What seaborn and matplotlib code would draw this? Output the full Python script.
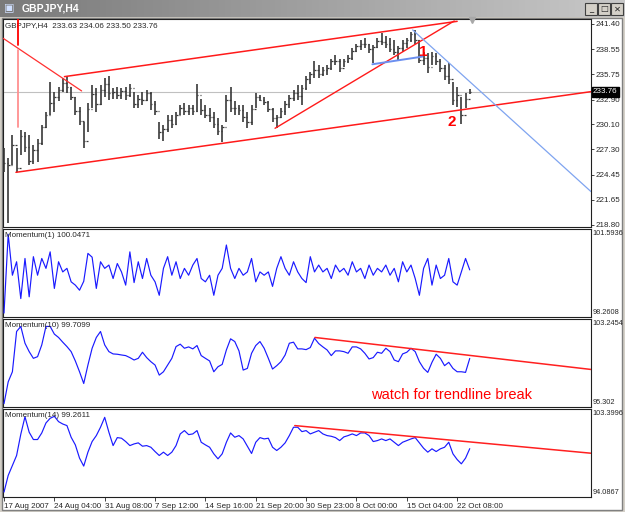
import matplotlib.pyplot as plt
import matplotlib.transforms as mtransforms
from matplotlib.patches import Rectangle
import numpy as np
import pandas as pd
import seaborn as sns

# GBPJPY H4 bars (one entry per bar)
high = [227.4, 226.3, 228.9, 227.4, 229.5, 229.3, 228.9, 227.8, 228.5, 230.0,
        231.5, 234.9, 233.8, 234.35, 235.3, 235.5, 234.35, 233.2, 232.1, 230.4,
        232.5, 234.5, 234.2, 234.5, 235.3, 235.5, 234.2, 234.35, 234.2, 234.35,
        234.7, 233.8, 233.4, 233.8, 234.0, 233.8, 232.7, 230.4, 230.0, 231.2,
        231.2, 231.5, 232.3, 232.5, 232.3, 232.3, 234.7, 233.0, 232.3, 231.9,
        231.5, 230.8, 230.0, 233.4, 234.35, 232.7, 232.3, 232.3, 231.5, 232.3,
        233.6, 233.4, 233.2, 232.7, 231.9, 231.2, 231.9, 232.7, 233.4, 234.0,
        234.5, 234.5, 235.5, 236.0, 237.2, 236.8, 236.6, 236.8, 237.5, 237.9,
        237.5, 237.5, 237.9, 238.7, 239.2, 239.6, 239.8, 239.2, 239.0, 239.8,
        240.35, 240.0, 239.8, 239.6, 238.9, 239.6, 239.8, 240.5, 240.7, 239.6,
        238.3, 238.1, 238.3, 238.1, 237.5, 236.8, 236.98, 234.9, 234.35, 233.2,
        233.6, 234.06]
low = [224.8, 219.0, 225.5, 224.8, 226.7, 227.0, 225.5, 225.7, 225.9, 227.8,
       229.7, 231.2, 231.5, 232.7, 233.8, 233.6, 232.85, 231.2, 230.0, 227.4,
       229.3, 231.9, 231.5, 232.3, 233.2, 232.85, 233.0, 233.0, 233.0, 232.85,
       233.2, 231.9, 231.9, 232.3, 232.7, 231.7, 231.2, 228.5, 228.2, 229.3,
       229.7, 230.0, 231.2, 231.2, 231.2, 231.2, 231.5, 231.2, 230.8, 230.4,
       229.7, 228.9, 228.1, 230.4, 231.5, 231.2, 231.2, 230.4, 229.7, 230.0,
       231.9, 232.7, 232.3, 231.5, 230.4, 229.7, 230.8, 231.2, 231.9, 232.7,
       232.85, 232.3, 234.0, 234.7, 235.3, 235.3, 235.5, 235.7, 236.2, 236.8,
       236.0, 236.6, 237.0, 237.35, 238.3, 238.5, 238.7, 238.1, 237.0, 238.7,
       239.0, 238.7, 238.3, 237.9, 237.35, 238.3, 238.7, 239.4, 239.2, 237.0,
       236.8, 235.85, 236.8, 236.8, 236.0, 235.1, 234.7, 232.3, 232.1, 230.2,
       231.9, 233.50]
close = [225.8, 225.5, 227.8, 225.2, 228.8, 227.6, 226.0, 227.2, 228.0, 229.8,
         231.2, 232.5, 233.2, 234.0, 234.8, 234.3, 233.2, 231.6, 230.5, 228.2,
         231.8, 233.5, 232.4, 234.0, 234.6, 233.6, 233.8, 233.4, 233.9, 233.4,
         234.2, 232.4, 233.0, 232.8, 233.6, 232.4, 231.6, 229.2, 229.6, 230.6,
         230.2, 231.2, 231.9, 231.6, 232.0, 231.6, 233.4, 231.7, 231.2, 230.9,
         230.2, 229.4, 229.8, 232.9, 232.0, 231.9, 231.7, 230.9, 230.4, 231.8,
         233.2, 232.9, 232.6, 231.8, 230.8, 230.9, 231.6, 232.4, 233.1, 233.6,
         233.3, 234.2, 235.2, 235.8, 236.2, 235.8, 236.2, 236.5, 237.2, 237.2,
         236.5, 237.2, 237.6, 238.4, 238.9, 239.2, 239.1, 238.6, 238.8, 239.5,
         239.4, 239.2, 238.6, 238.3, 238.7, 239.3, 239.6, 240.3, 239.6, 237.4,
         237.6, 236.6, 237.8, 237.2, 236.4, 235.6, 235.2, 232.8, 233.4, 231.2,
         233.0, 233.76]

mom1 = [98.35, 101.45, 99.84, 100.37, 98.92, 100.50, 98.99, 100.57, 99.84, 100.50,
        100.11, 100.76, 99.32, 100.37, 99.97, 100.11, 99.58, 99.45, 99.25, 99.60,
        100.70, 100.55, 99.32, 100.37, 100.11, 100.24, 99.71, 100.30, 99.97, 99.45,
        100.76, 99.55, 100.37, 99.71, 100.50, 99.84, 99.58, 99.05, 100.11, 100.57,
        99.84, 100.37, 99.71, 100.11, 99.84, 100.24, 100.50, 99.71, 99.58, 99.84,
        99.05, 99.84, 100.11, 101.03, 100.11, 99.71, 100.11, 99.84, 99.97, 100.50,
        99.58, 99.97, 99.84, 99.97, 99.40, 100.11, 100.57, 100.11, 99.84, 100.37,
        99.97, 99.71, 99.55, 100.57, 99.97, 100.24, 99.97, 100.11, 99.71, 100.24,
        99.97, 100.11, 99.84, 100.37, 99.97, 100.11, 99.71, 100.24, 99.84, 100.11,
        99.97, 100.24, 99.84, 100.11, 99.58, 100.37, 99.97, 100.24, 99.71, 99.05,
        100.11, 100.50, 99.45, 100.24, 99.71, 99.84, 100.50, 99.58, 99.45, 99.97,
        100.50, 100.05]
mom10 = [95.40, 97.48, 98.44, 102.28, 102.76, 101.16, 100.36, 99.72, 99.88, 101.00,
         102.76, 102.76, 102.03, 101.71, 101.26, 100.84, 100.36, 99.47, 98.44, 97.32,
         99.08, 100.68, 101.71, 102.28, 101.00, 100.36, 100.14, 100.11, 100.04, 99.98,
         99.79, 99.56, 99.72, 100.30, 99.79, 99.40, 99.08, 98.12, 98.44, 99.08,
         99.72, 100.84, 101.07, 100.68, 100.81, 100.62, 100.94, 99.98, 99.72, 99.47,
         98.44, 98.92, 99.14, 100.52, 101.58, 101.32, 100.43, 98.60, 98.76, 100.20,
         100.94, 101.32, 100.68, 99.72, 98.70, 99.02, 99.40, 100.04, 101.16, 101.26,
         100.62, 100.62, 100.55, 100.75, 101.64, 101.13, 100.81, 100.52, 99.98, 100.43,
         100.43, 100.36, 100.20, 100.81, 100.81, 100.62, 100.20, 99.66, 99.79, 100.30,
         100.20, 100.68, 100.36, 99.56, 99.40, 100.14, 100.30, 100.68, 100.36, 99.40,
         98.76, 98.38, 99.34, 100.11, 99.72, 99.02, 99.34, 98.76, 98.44, 98.44,
         98.38, 99.71]
mom14 = [94.31, 96.21, 97.34, 98.48, 100.90, 102.90, 101.13, 100.30, 100.30, 101.05,
         102.19, 102.72, 102.95, 102.34, 102.07, 101.89, 100.56, 99.69, 98.18, 97.27,
         98.86, 100.07, 100.75, 101.70, 102.83, 101.13, 99.61, 100.52, 100.45, 100.07,
         99.61, 99.80, 99.92, 99.54, 99.61, 99.42, 98.93, 98.48, 98.86, 98.48,
         98.86, 99.61, 100.94, 101.32, 100.86, 100.94, 101.32, 99.99, 99.69, 99.42,
         98.67, 98.10, 98.67, 99.99, 101.05, 100.56, 100.75, 100.37, 99.54, 98.71,
         99.99, 100.52, 100.37, 100.45, 99.42, 99.05, 99.42, 99.92, 100.75, 101.70,
         101.70, 101.20, 101.32, 100.94, 101.13, 101.32, 100.94, 100.75, 100.67, 100.52,
         100.18, 100.60, 100.75, 100.94, 100.75, 101.05, 101.05, 100.75, 100.07, 100.18,
         100.37, 100.18, 100.37, 99.99, 99.61, 99.99, 100.18, 100.37, 100.52, 99.92,
         99.31, 98.86, 99.24, 98.93, 99.24, 99.42, 99.99, 98.67, 98.02, 97.53,
         98.18, 99.26]

date_labels = ['17 Aug 2007', '24 Aug 04:00', '31 Aug 08:00', '7 Sep 12:00', '14 Sep 16:00',
               '21 Sep 20:00', '30 Sep 23:00', '8 Oct 00:00', '15 Oct 04:00', '22 Oct 08:00']
date_bars = [0, 12, 24, 36, 48, 60, 72, 84, 96, 108]
price_ticks = [241.40, 238.55, 235.75, 232.90, 230.10, 227.30, 224.45, 221.65, 218.80]
last_price = 233.76

# drawn objects: (bar0, price0, bar1, price1)
channel_top = [14.4, 235.48, 108.0, 241.70]
channel_bottom = [2.85, 224.72, 139.9, 233.79]
early_line = [-0.2, 239.79, 18.5, 233.87]
rise_line = [64.6, 229.67, 107.3, 241.74]
fall_line = [97.4, 240.73, 139.9, 222.55]
neck_line = [87.8, 236.87, 99.7, 237.73]
mom10_line = [74.1, 101.71, 139.9, 98.66]
mom14_line = [69.3, 101.89, 139.9, 98.74]

sns.set_style('white')
plt.rcParams['font.family'] = ['Liberation Sans', 'DejaVu Sans']
small = 5.8

df = pd.DataFrame({'bar': np.arange(len(close)), 'high': high, 'low': low, 'close': close,
                   'mom1': mom1, 'mom10': mom10, 'mom14': mom14})
df['open'] = df['close'].shift(1).fillna(df['close'])

W, H = 625, 512
fig = plt.figure(figsize=(6.25, 5.12), dpi=100, facecolor='#d4d0c8')


def box(x0, y0, x1, y1):
    # pixel box (top-left origin) -> figure rect
    return [x0 / W, 1 - y1 / H, (x1 - x0) / W, (y1 - y0) / H]


# window chrome
tb = fig.add_axes(box(0, 0, 625, 17))
tb.imshow(np.linspace(0, 1, 200).reshape(1, -1), cmap=sns.blend_palette(['#7a7a7a', '#c8c8c8'], as_cmap=True),
          aspect='auto', extent=[0, 1, 0, 1])
tb.set_axis_off()
tb.text(0.006, 0.5, '\u25a3', color='#d0e0ff', fontsize=8, va='center', family='DejaVu Sans')
tb.text(0.035, 0.5, 'GBPJPY,H4', color='white', fontsize=7.5, fontweight='bold', va='center')
for k, glyph in enumerate(['_', '\u25a1', '\u2715']):
    x0 = 585 + k * 13
    fig.add_artist(Rectangle((x0 / W, 1 - 15 / H), 12 / W, 12 / H, transform=fig.transFigure,
                             facecolor='#d4d0c8', edgecolor='#404040', lw=0.8))
    fig.text((x0 + 6) / W, 1 - 9 / H, glyph, fontsize=6, ha='center', va='center', family='DejaVu Sans')
fig.add_artist(Rectangle((2 / W, 1 - 510 / H), 620 / W, 492 / H, transform=fig.transFigure,
                         facecolor='white', edgecolor='#808080', lw=1, zorder=0))

ax = fig.add_axes(box(3, 19, 591, 227))
ax_m1 = fig.add_axes(box(3, 229, 591, 317))
ax_m10 = fig.add_axes(box(3, 319, 591, 407))
ax_m14 = fig.add_axes(box(3, 409, 591, 497))
panels = [ax, ax_m1, ax_m10, ax_m14]

# price bars
bar_col = '#383838'
ax.axhline(last_price, color='#c0c0c0', lw=0.8, zorder=1)
ax.vlines(df['bar'], df['low'], df['high'], color=bar_col, lw=1.2, zorder=3)
ax.hlines(df['open'], df['bar'] - 0.35, df['bar'], color=bar_col, lw=0.9, zorder=3)
ax.hlines(df['close'], df['bar'], df['bar'] + 0.35, color=bar_col, lw=0.9, zorder=3)

for ln, col, lw in [(channel_top, '#ff1a1a', 1.1), (channel_bottom, '#ff1a1a', 1.1),
                    (early_line, '#ff3030', 0.9), (rise_line, '#ff1a1a', 1.0),
                    (fall_line, '#7fa4f0', 0.9), (neck_line, '#6b8ff0', 1.4)]:
    ax.plot([ln[0], ln[2]], [ln[1], ln[3]], color=col, lw=lw, zorder=4)
ax.plot([3.3, 3.3], [241.96, 239.04], color='#ff0000', lw=1.3, zorder=4)
ax.plot([3.3, 3.3], [238.48, 229.8], color='#ff9090', lw=1.3, zorder=4)
ax.plot(111.6, 241.85, marker='v', color='#a8a8a8', ms=5, clip_on=False, zorder=5)
ax.text(100.0, 238.3, '1', color='#ff0000', fontsize=11, fontweight='bold', ha='center', va='center')
ax.text(106.6, 230.4, '2', color='#ff0000', fontsize=11, fontweight='bold', ha='center', va='center')
ax.text(0.004, 0.985, 'GBPJPY,H4  233.63 234.06 233.50 233.76', transform=ax.transAxes,
        fontsize=small, va='top', ha='left')
ax.set_ylim(218.57, 241.96)
ax.set_yticks(price_ticks)
ax.set_yticklabels([f'{p:.2f}' for p in price_ticks])
ax.yaxis.tick_right()
ax.tick_params(axis='y', length=2, width=0.6, pad=1, labelsize=small, right=True, direction='out')
trans = mtransforms.blended_transform_factory(ax.transAxes, ax.transData)
ax.text(1.003, last_price, f'{last_price:.2f}', transform=trans, color='white', fontsize=small,
        va='center', ha='left', bbox=dict(boxstyle='square,pad=0.15', fc='black', ec='black'), zorder=6)

# momentum panels
specs = [(ax_m1, 'mom1', 'Momentum(1) 100.0471', (98.195, 101.66), '101.5936', '98.2608', None),
         (ax_m10, 'mom10', 'Momentum(10) 99.7099', (95.08, 103.47), '103.2454', '95.302', mom10_line),
         (ax_m14, 'mom14', 'Momentum(14) 99.2611', (93.75, 103.78), '103.3996', '94.0867', mom14_line)]
for a, col, name, lim, top_lbl, bot_lbl, tl in specs:
    sns.lineplot(data=df, x='bar', y=col, ax=a, color='#1a1aff', lw=0.85, zorder=3)
    if tl is not None:
        a.plot([tl[0], tl[2]], [tl[1], tl[3]], color='#ff2020', lw=1.1, zorder=4)
    a.set_ylim(*lim)
    a.set_yticks([])
    a.set_ylabel('')
    a.text(0.004, 0.97, name, transform=a.transAxes, fontsize=small, va='top', ha='left', zorder=5)
    a.text(1.003, 0.99, top_lbl, transform=a.transAxes, fontsize=5.3, va='top', ha='left')
    a.text(1.003, 0.01, bot_lbl, transform=a.transAxes, fontsize=5.3, va='bottom', ha='left')

ax_m10.text(87.4, 96.2, 'watch for trendline break', color='#ff0000', fontsize=10.5, va='center', ha='left')

for a in panels:
    a.set_xlim(-0.24, 139.9)
    a.set_facecolor('white')
    a.set_xlabel('')
    for s in a.spines.values():
        s.set_color('#202020')
        s.set_linewidth(0.8)
    if a is not ax_m14:
        a.set_xticks([])

ax_m14.set_xticks(date_bars)
ax_m14.set_xticklabels(date_labels)
ax_m14.tick_params(axis='x', length=3, width=0.6, pad=1, labelsize=small, bottom=True, direction='out')
for lbl in ax_m14.get_xticklabels():
    lbl.set_horizontalalignment('left')

fig.savefig('out.png', dpi=100, facecolor=fig.get_facecolor())
